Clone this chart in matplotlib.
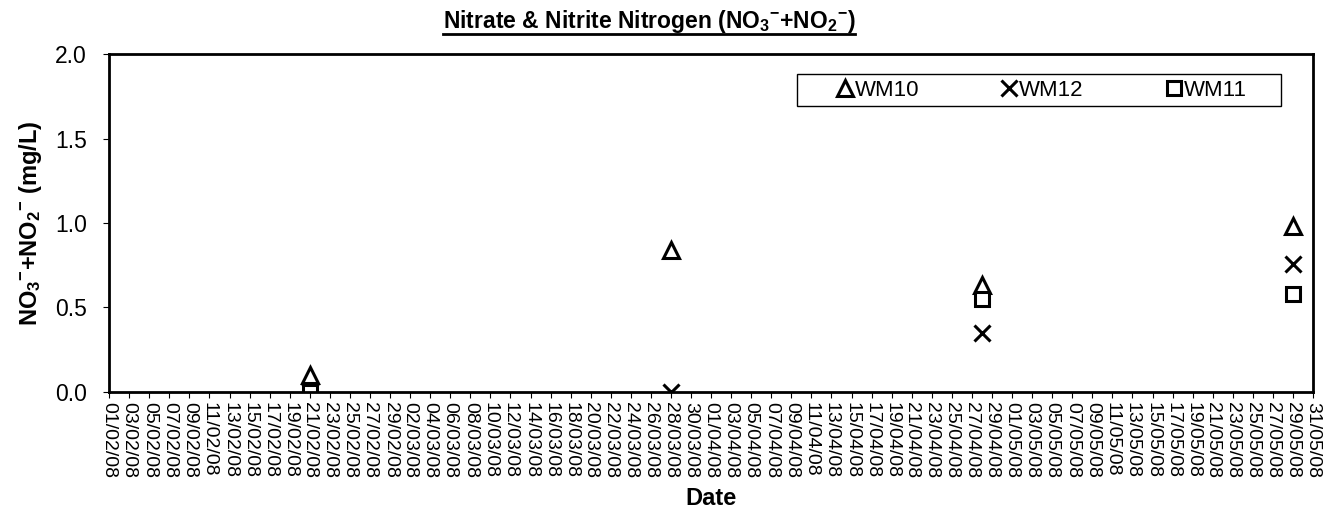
import pandas as pd
import matplotlib
matplotlib.use("Agg")
import matplotlib.pyplot as plt
import matplotlib.dates as mdates
from matplotlib.lines import Line2D
from matplotlib.patches import Rectangle

plt.rcParams['font.family'] = ['Liberation Sans', 'DejaVu Sans']
plt.rcParams['mathtext.default'] = 'regular'

# sample dates and values
dates_wm10 = ['2008-02-21', '2008-03-28', '2008-04-28', '2008-05-29']
wm10 = [0.10, 0.84, 0.63, 0.98]
dates_wm12 = ['2008-02-21', '2008-03-28', '2008-04-28', '2008-05-29']
wm12 = [0.0, 0.0, 0.35, 0.76]
dates_wm11 = ['2008-02-21', '2008-04-28', '2008-05-29']
wm11 = [0.0, 0.55, 0.58]

fig = plt.figure(figsize=(13.31, 5.21), dpi=100)
ax = fig.add_axes([0.082, 0.248, 0.9045, 0.648])

ax.plot(pd.to_datetime(dates_wm10), wm10, linestyle='none', marker='^', markersize=11,
        markerfacecolor='white', markeredgecolor='black', markeredgewidth=2.2, label='WM10')
ax.plot(pd.to_datetime(dates_wm12), wm12, linestyle='none', marker='x', markersize=11,
        color='black', markeredgewidth=2.2, label='WM12')
ax.plot(pd.to_datetime(dates_wm11), wm11, linestyle='none', marker='s', markersize=10,
        markerfacecolor='white', markeredgecolor='black', markeredgewidth=2.2, label='WM11')

ax.set_xlim(pd.Timestamp('2008-02-01'), pd.Timestamp('2008-05-31'))
ax.set_ylim(0, 2.0)
ax.set_yticks([0.0, 0.5, 1.0, 1.5, 2.0])
ax.set_yticklabels(['0.0', '0.5', '1.0', '1.5', '2.0'], fontsize=16.5)

ticks = pd.date_range('2008-02-01', '2008-05-31', freq='2D')
ax.set_xticks(ticks)
ax.xaxis.set_major_formatter(mdates.DateFormatter('%d/%m/%y'))
ax.tick_params(axis='x', labelrotation=270, labelsize=14, length=4, direction='out')
ax.tick_params(axis='y', length=4, direction='out', pad=12)

for s in ax.spines.values():
    s.set_linewidth(2)
    s.set_color('black')

ax.set_xlabel('Date', fontsize=17, fontweight='bold', labelpad=6)
ax.set_ylabel(r'NO$_{3}{}^{-}$+NO$_{2}{}^{-}$ (mg/L)', fontsize=17, fontweight='bold', labelpad=8)

# legend box and entries
ax.add_patch(Rectangle((0.571, 0.846), 0.402, 0.095, transform=ax.transAxes,
                       facecolor='white', edgecolor='black', linewidth=1, zorder=4))
leg = ax.legend(loc='center left', bbox_to_anchor=(0.6055, 0.893), ncol=3, frameon=False,
                fontsize=16, handlelength=0.6, handletextpad=0.15, columnspacing=3.75,
                borderpad=0, borderaxespad=0)
leg.set_zorder(5)

title = fig.text(0.4876, 0.946, r'Nitrate & Nitrite Nitrogen (NO$_{3}{}^{-}$+NO$_{2}{}^{-}$)',
                 ha='center', va='baseline', fontsize=16.5, fontweight='bold')

# underline under the title
fig.canvas.draw()
bb = title.get_window_extent().transformed(fig.transFigure.inverted())
fig.add_artist(Line2D([bb.x0, bb.x1], [bb.y0 + 0.002, bb.y0 + 0.002],
                      transform=fig.transFigure, color='black', linewidth=2))

fig.savefig('out.png', dpi=100)
